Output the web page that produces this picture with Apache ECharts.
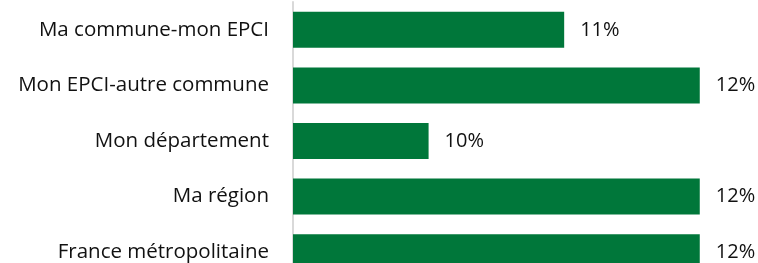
<!DOCTYPE html>
<html>
<head>
<meta charset="utf-8">
<script src="https://cdn.jsdelivr.net/npm/echarts@6/dist/echarts.min.js"></script>
<style>
  html, body { margin: 0; padding: 0; background: #fff; }
  #main { width: 758px; height: 263px; }
</style>
</head>
<body>
<div id="main"></div>
<script>
// catégories et valeurs (%)
var categories = ['Ma commune-mon EPCI', 'Mon EPCI-autre commune', 'Mon département', 'Ma région', 'France métropolitaine'];
var values = [11, 12, 10, 12, 12];

var myChart = echarts.init(document.getElementById('main'));

var option = {
    animation: false,
    textStyle: { fontFamily: 'Open Sans' },
    grid: {
        left: 293,
        right: 4,
        top: 2,
        height: 278,
        outerBoundsMode: 'none',
        containLabel: false
    },
    xAxis: {
        type: 'value',
        min: 9,
        max: 12.4,
        show: false
    },
    yAxis: {
        type: 'category',
        inverse: true,
        data: categories,
        axisLine: { show: true, lineStyle: { color: '#d9d9d9', width: 2 } },
        axisTick: { show: false },
        axisLabel: { color: '#111', fontSize: 20.5, margin: 24 }
    },
    series: [{
        type: 'bar',
        data: values,
        barWidth: 36,
        itemStyle: { color: '#00773a' },
        label: {
            show: true,
            position: 'right',
            distance: 16,
            color: '#111',
            fontSize: 20,
            formatter: function (p) { return p.value + '%'; }
        }
    }]
};

myChart.setOption(option);
</script>
</body>
</html>
